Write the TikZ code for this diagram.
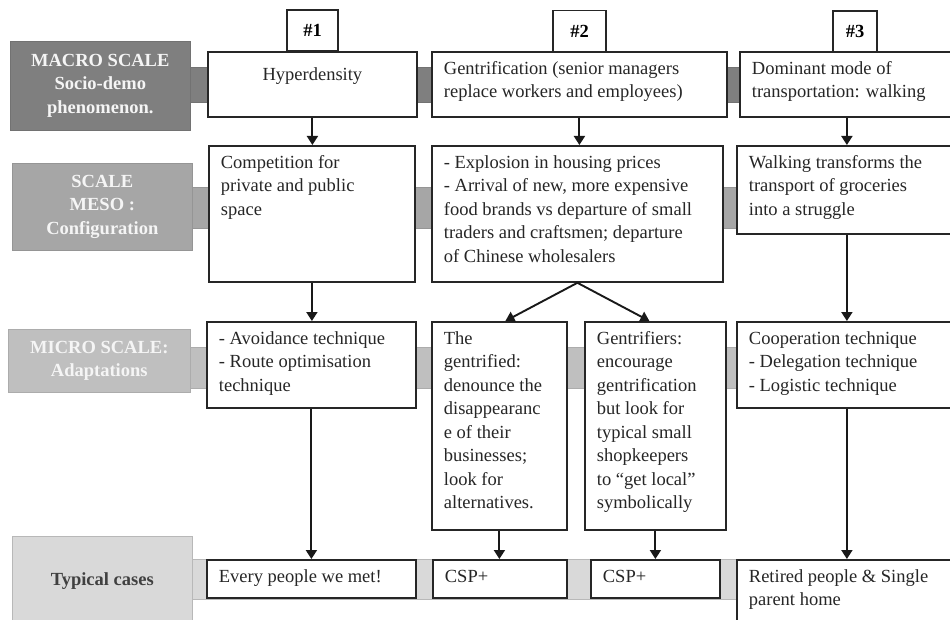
\documentclass[tikz,border=0pt]{standalone}
\usepackage{fontspec}
\setmainfont{Liberation Serif}
\usetikzlibrary{arrows.meta}
\definecolor{MacroGray}{HTML}{7F7F7F}
\definecolor{MesoGray}{HTML}{A6A6A6}
\definecolor{MicroGray}{HTML}{BFBFBF}
\definecolor{CaseGray}{HTML}{D9D9D9}
\definecolor{CaseText}{HTML}{404040}
\newcommand{\cellfont}{\fontsize{18.5}{23.5}\selectfont}
\newcommand{\celltext}[3]{\parbox[t][\dimexpr#2pt-12pt\relax][t]{\dimexpr#1pt-24pt\relax}{\raggedright\strut#3}}

\begin{document}
\begin{tikzpicture}[
  x=1pt, y=-1pt,
  >={Triangle[length=9pt,width=11pt]},
  scalelabel/.style={anchor=north west,inner sep=0pt,align=center,font=\cellfont\bfseries,text=white!96!black,line width=0.6pt},
  band/.style={line width=0.6pt},
  cell/.style={draw=black!85,line width=1.8pt,fill=white,anchor=north west,inner xsep=12pt,inner ysep=6pt,font=\cellfont,text=black!85},
  tab/.style={draw=black!85,line width=1.8pt,fill=white,font=\cellfont\bfseries,minimum height=41pt,inner sep=0pt},
  flow/.style={->,line width=1.9pt,draw=black!90}
]
\path[use as bounding box,fill=white] (0,0) rectangle (950,620);

% Bands behind each scale
\filldraw[band,fill=MacroGray,draw=MacroGray!90!black] (150,67) rectangle (960,102);
\filldraw[band,fill=MesoGray,draw=MesoGray!90!black] (150,187) rectangle (960,228);
\filldraw[band,fill=MicroGray,draw=MicroGray!90!black] (150,347) rectangle (960,388);
\filldraw[band,fill=CaseGray,draw=CaseGray!85!black] (150,559) rectangle (960,599);

% Scale labels
\node[scalelabel,fill=MacroGray,draw=MacroGray!90!black,minimum width=180pt,minimum height=89pt] (lmacro) at (10,41) {MACRO SCALE\\Socio-demo\\phenomenon.};
\node[scalelabel,fill=MesoGray,draw=MesoGray!90!black,minimum width=180pt,minimum height=87pt] (lmeso) at (12,163) {SCALE\\MESO :\\Configuration};
\node[scalelabel,fill=MicroGray,draw=MicroGray!90!black,minimum width=182pt,minimum height=63pt] (lmicro) at (8,329) {MICRO SCALE:\\Adaptations};
\node[scalelabel,fill=CaseGray,draw=CaseGray!85!black,text=CaseText,minimum width=180pt,minimum height=90pt] (lcases) at (12,536) {Typical cases};

% Row 1: macro scale
\node[cell] (a1) at (207,51) {\celltext{209}{65}{\centering\raisebox{-6pt}{Hyperdensity}}};
\node[cell] (a2) at (431,51) {\celltext{295}{65}{Gentrification (senior managers\\replace workers and employees)}};
\node[cell] (a3) at (739,51) {\celltext{214}{65}{Dominant mode of\\transportation: walking}};

% Case numbers
\node[tab,minimum width=51pt] (t1) at (312.5,30.5) {\#1};
\node[tab,minimum width=53pt] (t2) at (579.5,31) {\#2};
\node[tab,minimum width=44pt] (t3) at (855,31.5) {\#3};

% Row 2: meso scale
\node[cell] (b1) at (208,145) {\celltext{206}{136}{Competition for\\private and public\\space}};
\node[cell] (b2) at (431,145) {\celltext{291}{136}{- Explosion in housing prices\\- Arrival of new, more expensive\\food brands vs departure of small\\traders and craftsmen; departure\\of Chinese wholesalers}};
\node[cell] (b3) at (736,145) {\celltext{220}{88}{Walking transforms the\\transport of groceries\\into a struggle}};

% Row 3: micro scale
\node[cell] (c1) at (206,321) {\celltext{209}{86}{- Avoidance technique\\- Route optimisation\\technique}};
\node[cell] (c2) at (431,321) {\celltext{135}{208}{The\\gentrified:\\denounce the\\disappearanc\\e of their\\businesses;\\look for\\alternatives.}};
\node[cell] (c3) at (584,321) {\celltext{141}{208}{Gentrifiers:\\encourage\\gentrification\\but look for\\typical small\\shopkeepers\\to “get local”\\symbolically}};
\node[cell] (c4) at (736,321) {\celltext{220}{86}{Cooperation technique\\- Delegation technique\\- Logistic technique}};

% Row 4: typical cases
\node[cell] (d1) at (206,559) {\celltext{209}{38}{Every people we met!}};
\node[cell] (d2) at (432,559) {\celltext{134}{38}{CSP+}};
\node[cell] (d3) at (590,559) {\celltext{129}{38}{CSP+}};
\node[cell] (d4) at (736,559) {\celltext{220}{70}{Retired people \& Single\\parent home}};

% Arrows
\foreach \src/\dst in {a1/b1,b1/c1,c1/d1,a2/b2,c2/d2,c3/d3,a3/b3,b3/c4,c4/d4}
  \draw[flow] (\src.south) -- (\src.south |- \dst.north);
\draw[flow] (b2.south) -- ([xshift=6pt]c2.north);
\draw[flow] (b2.south) -- ([xshift=-6pt]c3.north);

\end{tikzpicture}
\end{document}
